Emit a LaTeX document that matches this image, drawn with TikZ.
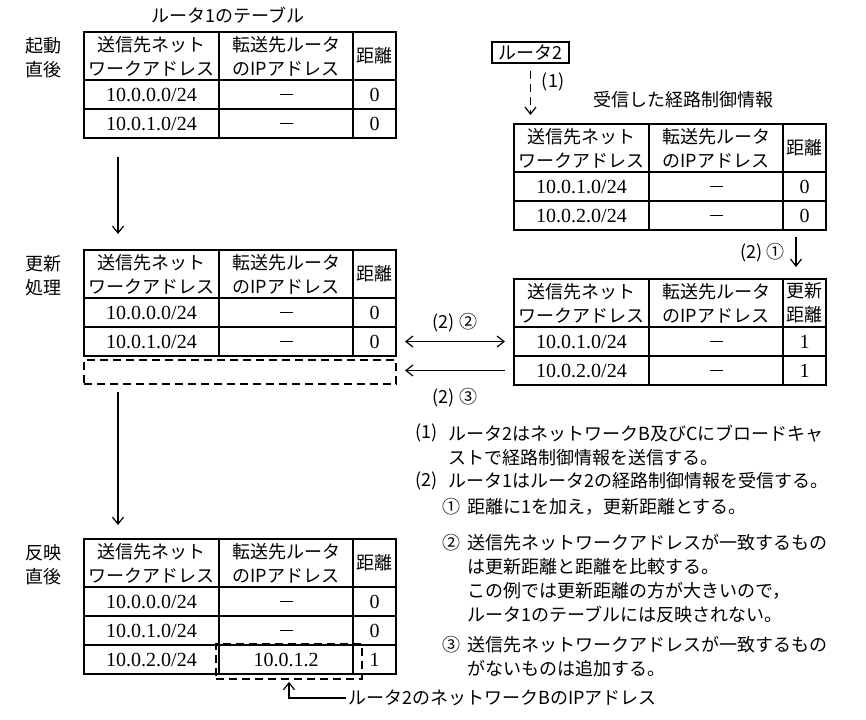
\documentclass[tikz,border=0pt]{standalone}
\usepackage{fontspec}
\setmainfont{Noto Sans CJK JP}
\newfontfamily\numf{Liberation Serif}
\usetikzlibrary{arrows.meta,positioning,calc,fit}
\newcommand{\fs}{\fontsize{9}{12}\selectfont}
\newcommand{\nd}{\rule{6.5pt}{0.8pt}}
\tikzset{
  cl/.style={draw, line width=0.8pt, outer sep=0pt, inner sep=1pt, align=center, anchor=north west},
  hd/.style={cl, minimum height=24pt},
  rw/.style={cl, minimum height=14.5pt, font=\fontsize{10}{12}\selectfont\numf},
  ca/.style={minimum width=67.5pt},
  cb/.style={minimum width=67pt},
  cc/.style={minimum width=21.5pt},
  arr/.style={-{Straight Barb[length=3.5pt,width=5.5pt]}, line width=0.6pt},
  darr/.style={{Straight Barb[length=3.5pt,width=5.5pt]}-{Straight Barb[length=3.5pt,width=5.5pt]}, line width=0.6pt},
  dsh/.style={dash pattern=on 4pt off 2.5pt},
  stg/.style={anchor=north east, align=center, inner sep=0pt},
  txt/.style={anchor=west, align=left, inner sep=0pt},
}
% table: name, x, y, third header, rows
\newcommand{\rtbl}[5]{%
  \node[hd, ca] (#1h1) at (#2,#3) {送信先ネット\\ワークアドレス};
  \node[hd, cb] (#1h2) at (#1h1.north east) {転送先ルータ\\のIPアドレス};
  \node[hd, cc] (#1h3) at (#1h2.north east) {#4};
  \foreach \ad/\nh/\ds [count=\ri] in {#5} {
    \node[rw, ca] (#1r\ri a) at ($(#1h1.south west)+(0,{(\ri-1)*29})$) {\ad};
    \node[rw, cb] (#1r\ri b) at (#1r\ri a.north east) {\nh};
    \node[rw, cc] (#1r\ri c) at (#1r\ri b.north east) {\ds};
  }%
}

\begin{document}
\begin{tikzpicture}[x=0.5pt, y=-0.5pt, font=\fs]
  \useasboundingbox (0,0) rectangle (866,719);
  % router 1, left column
  \node (ttl) at (228,15) {ルータ1のテーブル};
  \rtbl{t1}{84}{32}{距離}{{10.0.0.0/24}/\nd/0, {10.0.1.0/24}/\nd/0}
  \rtbl{t2}{84}{250}{距離}{{10.0.0.0/24}/\nd/0, {10.0.1.0/24}/\nd/0}
  \node[draw, dsh, line width=0.8pt, outer sep=0pt, anchor=north west, minimum width=156pt, minimum height=12pt] (nb) at ($(t2r2a.south west)+(0,4)$) {};
  \rtbl{t4}{84}{539}{距離}{{10.0.0.0/24}/\nd/0, {10.0.1.0/24}/\nd/0, {10.0.2.0/24}/10.0.1.2/1}
  \node[stg] (st1) at ($(t1h1.north west)+(-22,5)$) {起動\\直後};
  \node[stg] (st2) at ($(t2h1.north west)+(-22,5)$) {更新\\処理};
  \node[stg] (st4) at ($(t4h1.north west)+(-22,5)$) {反映\\直後};
  \draw[arr, shorten <=9.5pt, shorten >=8pt] ($(t1r2a.south west)+(34,0)$) -- ($(t2h1.north west)+(34,0)$);
  \draw[arr, shorten <=4pt, shorten >=7pt] ($(nb.south west)+(34,0)$) -- ($(t4h1.north west)+(34,0)$);
  % router 2, right column
  \node[draw, line width=0.8pt, minimum width=38.5pt, minimum height=10.5pt, inner sep=1pt] (r2) at (530.5,52.5) {ルータ2};
  \node (rcv) at (683,100) {受信した経路制御情報};
  \rtbl{t3}{514}{124}{距離}{{10.0.1.0/24}/\nd/0, {10.0.2.0/24}/\nd/0}
  \rtbl{t5}{514}{279}{更新\\距離}{{10.0.1.0/24}/\nd/1, {10.0.2.0/24}/\nd/1}
  \draw[arr, dsh, shorten <=3.5pt, shorten >=4.5pt] (r2.south) -- (r2.south |- t3h1.north);
  \node at (553,82) {(1)};
  \draw[arr, shorten <=3.5pt, shorten >=6pt] ($(t3r2c.south west)+(13,0)$) -- ($(t5h3.north west)+(13,0)$);
  \node[anchor=east] at (792,253) {(2) ①};
  \draw[darr, shorten <=4.5pt, shorten >=4.5pt] (t2r2c.east) -- (t5r1a.west) node[midway, above=1pt] {(2) ②};
  \draw[arr, shorten <=4.5pt, shorten >=4.5pt] (t5r2a.west) -- (t5r2a.west -| nb.east) node[midway, below=5pt] {(2) ③};
  % new entry
  \node[draw, dsh, line width=0.8pt, inner sep=0pt, fit={($(t4r3b.north west)+(-3,-1)$) ($(t4r3b.south east)+(9,5)$)}] (nh) {};
  \node[anchor=west, inner sep=1pt] (lb) at (346,698) {ルータ2のネットワークBのIPアドレス};
  \draw[arr, shorten >=1pt] (lb.west) -| (nh.south);
  % notes
  \node[txt] (m1) at (415,433) {(1)};
  \node[txt] (p1) at (448,445.5) {ルータ2はネットワークB及びCにブロードキャ\\ストで経路制御情報を送信する。};
  \node[txt] (m2) at (415,481) {(2)};
  \node[txt] (p2) at (448,481) {ルータ1はルータ2の経路制御情報を受信する。};
  \node[txt] (s1) at (442,507) {①};
  \node[txt] (q1) at (467,507) {距離に1を加え，更新距離とする。};
  \node[txt] (s2) at (442,543) {②};
  \node[txt] (q2) at (467,579) {送信先ネットワークアドレスが一致するもの\\は更新距離と距離を比較する。\\この例では更新距離の方が大きいので，\\ルータ1のテーブルには反映されない。};
  \node[txt] (s3) at (442,645) {③};
  \node[txt] (q3) at (467,657) {送信先ネットワークアドレスが一致するもの\\がないものは追加する。};
\end{tikzpicture}
\end{document}
